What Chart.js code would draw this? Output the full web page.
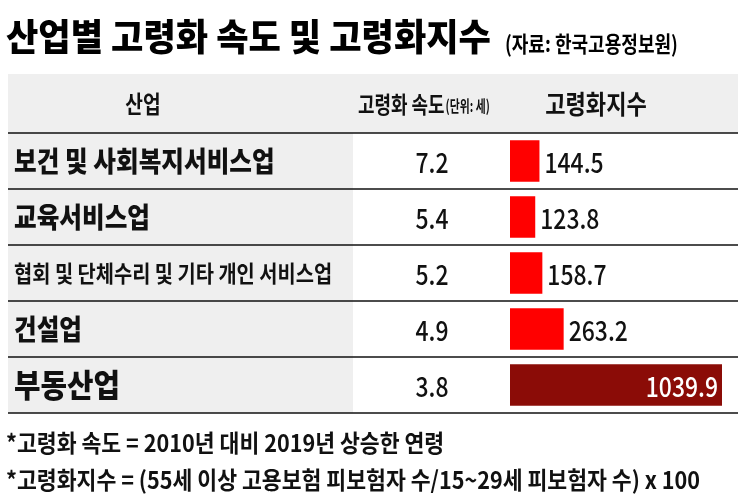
<!DOCTYPE html>
<html><head><meta charset="utf-8">
<script src="https://cdn.jsdelivr.net/npm/chart.js@4"></script>
<style>html,body{margin:0;padding:0;background:#fff}#w{width:745px;height:502px}</style>
</head><body><div id="w"><canvas id="c"></canvas></div>
<script>
const industries=["보건 및 사회복지서비스업","교육서비스업","협회 및 단체수리 및 기타 개인 서비스업","건설업","부동산업"];
const agingSpeed=["7.2","5.4","5.2","4.9","3.8"];
const agingIndex=[144.5,123.8,158.7,263.2,1039.9];
const indexLabels=["144.5","123.8","158.7","263.2","1039.9"];
const title="산업별 고령화 속도 및 고령화지수";
const source="(자료: 한국고용정보원)";
const headers=["산업","고령화 속도","(단위: 세)","고령화지수"];
const notes=["*고령화 속도 = 2010년 대비 2019년 상승한 연령","*고령화지수 = (55세 이상 고용보험 피보험자 수/15~29세 피보험자 수) x 100"];
const F='"Noto Sans CJK KR", sans-serif';
function txt(ctx,s,x,y,size,weight,align,color,sx){
  ctx.save();ctx.font=weight+' '+size+'px '+F;ctx.fillStyle=color;ctx.textBaseline='middle';
  ctx.translate(x,y);ctx.scale(sx,1);ctx.textAlign=align;ctx.fillText(s,0,0);ctx.restore();
  ctx.save();ctx.font=weight+' '+size+'px '+F;const w=ctx.measureText(s).width*sx;ctx.restore();return w;
}
const table={id:'table',
 beforeDatasetsDraw(ch){const ctx=ch.ctx;const top=ch.chartArea.top,bot=ch.chartArea.bottom;
  ctx.save();
  ctx.fillStyle='#efefef';ctx.fillRect(8,74,730,top-74);ctx.fillRect(8,top,345,bot-top);
  ctx.restore();
 },
 afterDatasetsDraw(ch){const ctx=ch.ctx;const top=ch.chartArea.top,bot=ch.chartArea.bottom;
  const step=(bot-top)/industries.length;
  let w=txt(ctx,title,6,37,37,'900','left','#000',0.95);
  txt(ctx,source,6+w+14,44,22,'700','left','#000',0.82);
  txt(ctx,headers[0],143,104,24,'700','center','#111',0.8);
  let hw=txt(ctx,headers[1],358,104,23,'700','left','#111',0.78);
  txt(ctx,headers[2],358+hw+1,106,16,'700','left','#111',0.68);
  txt(ctx,headers[3],596,104,26,'700','center','#111',0.85);
  ctx.save();ctx.strokeStyle='#111';ctx.lineWidth=1.5;
  for(let i=0;i<=industries.length;i++){const yy=top+i*step;ctx.beginPath();ctx.moveTo(8,yy);ctx.lineTo(738,yy);ctx.stroke();}
  ctx.restore();
  industries.forEach((s,i)=>{const yc=ch.scales.y.getPixelForValue(i);
    const big=i===industries.length-1;
    if(i===2) txt(ctx,s,14,yc,23,'700','left','#111',0.86);
    else if(big) txt(ctx,s,14,yc,32,'900','left','#111',0.9);
    else txt(ctx,s,14,yc,28,'900','left','#111',0.88);
    txt(ctx,agingSpeed[i],432,yc+2,27,'500','center','#111',0.85);
    const xe=ch.scales.x.getPixelForValue(agingIndex[i]);
    if(big) txt(ctx,indexLabels[i],xe-4,yc+2,27,'500','right','#fff',0.85);
    else txt(ctx,indexLabels[i],xe+5,yc+2,27,'500','left','#111',0.85);
  });
  notes.forEach((n,i)=>txt(ctx,n,6,443+i*37,24,'700','left','#111',0.9));
 }};
new Chart(document.getElementById('c'),{type:'bar',
 data:{labels:industries,datasets:[{data:agingIndex,backgroundColor:agingIndex.map((v,i)=>i===4?'#8b0c07':'#ff0000'),barPercentage:0.74,categoryPercentage:1}]},
 options:{indexAxis:'y',responsive:true,maintainAspectRatio:false,animation:false,devicePixelRatio:1,
  layout:{padding:{left:510,right:23,top:133,bottom:89}},
  scales:{x:{display:false,min:0,max:1039.9,grid:{display:false}},y:{display:false,grid:{display:false}}},
  plugins:{legend:{display:false},tooltip:{enabled:false}}},
 plugins:[table]});
</script></body></html>
